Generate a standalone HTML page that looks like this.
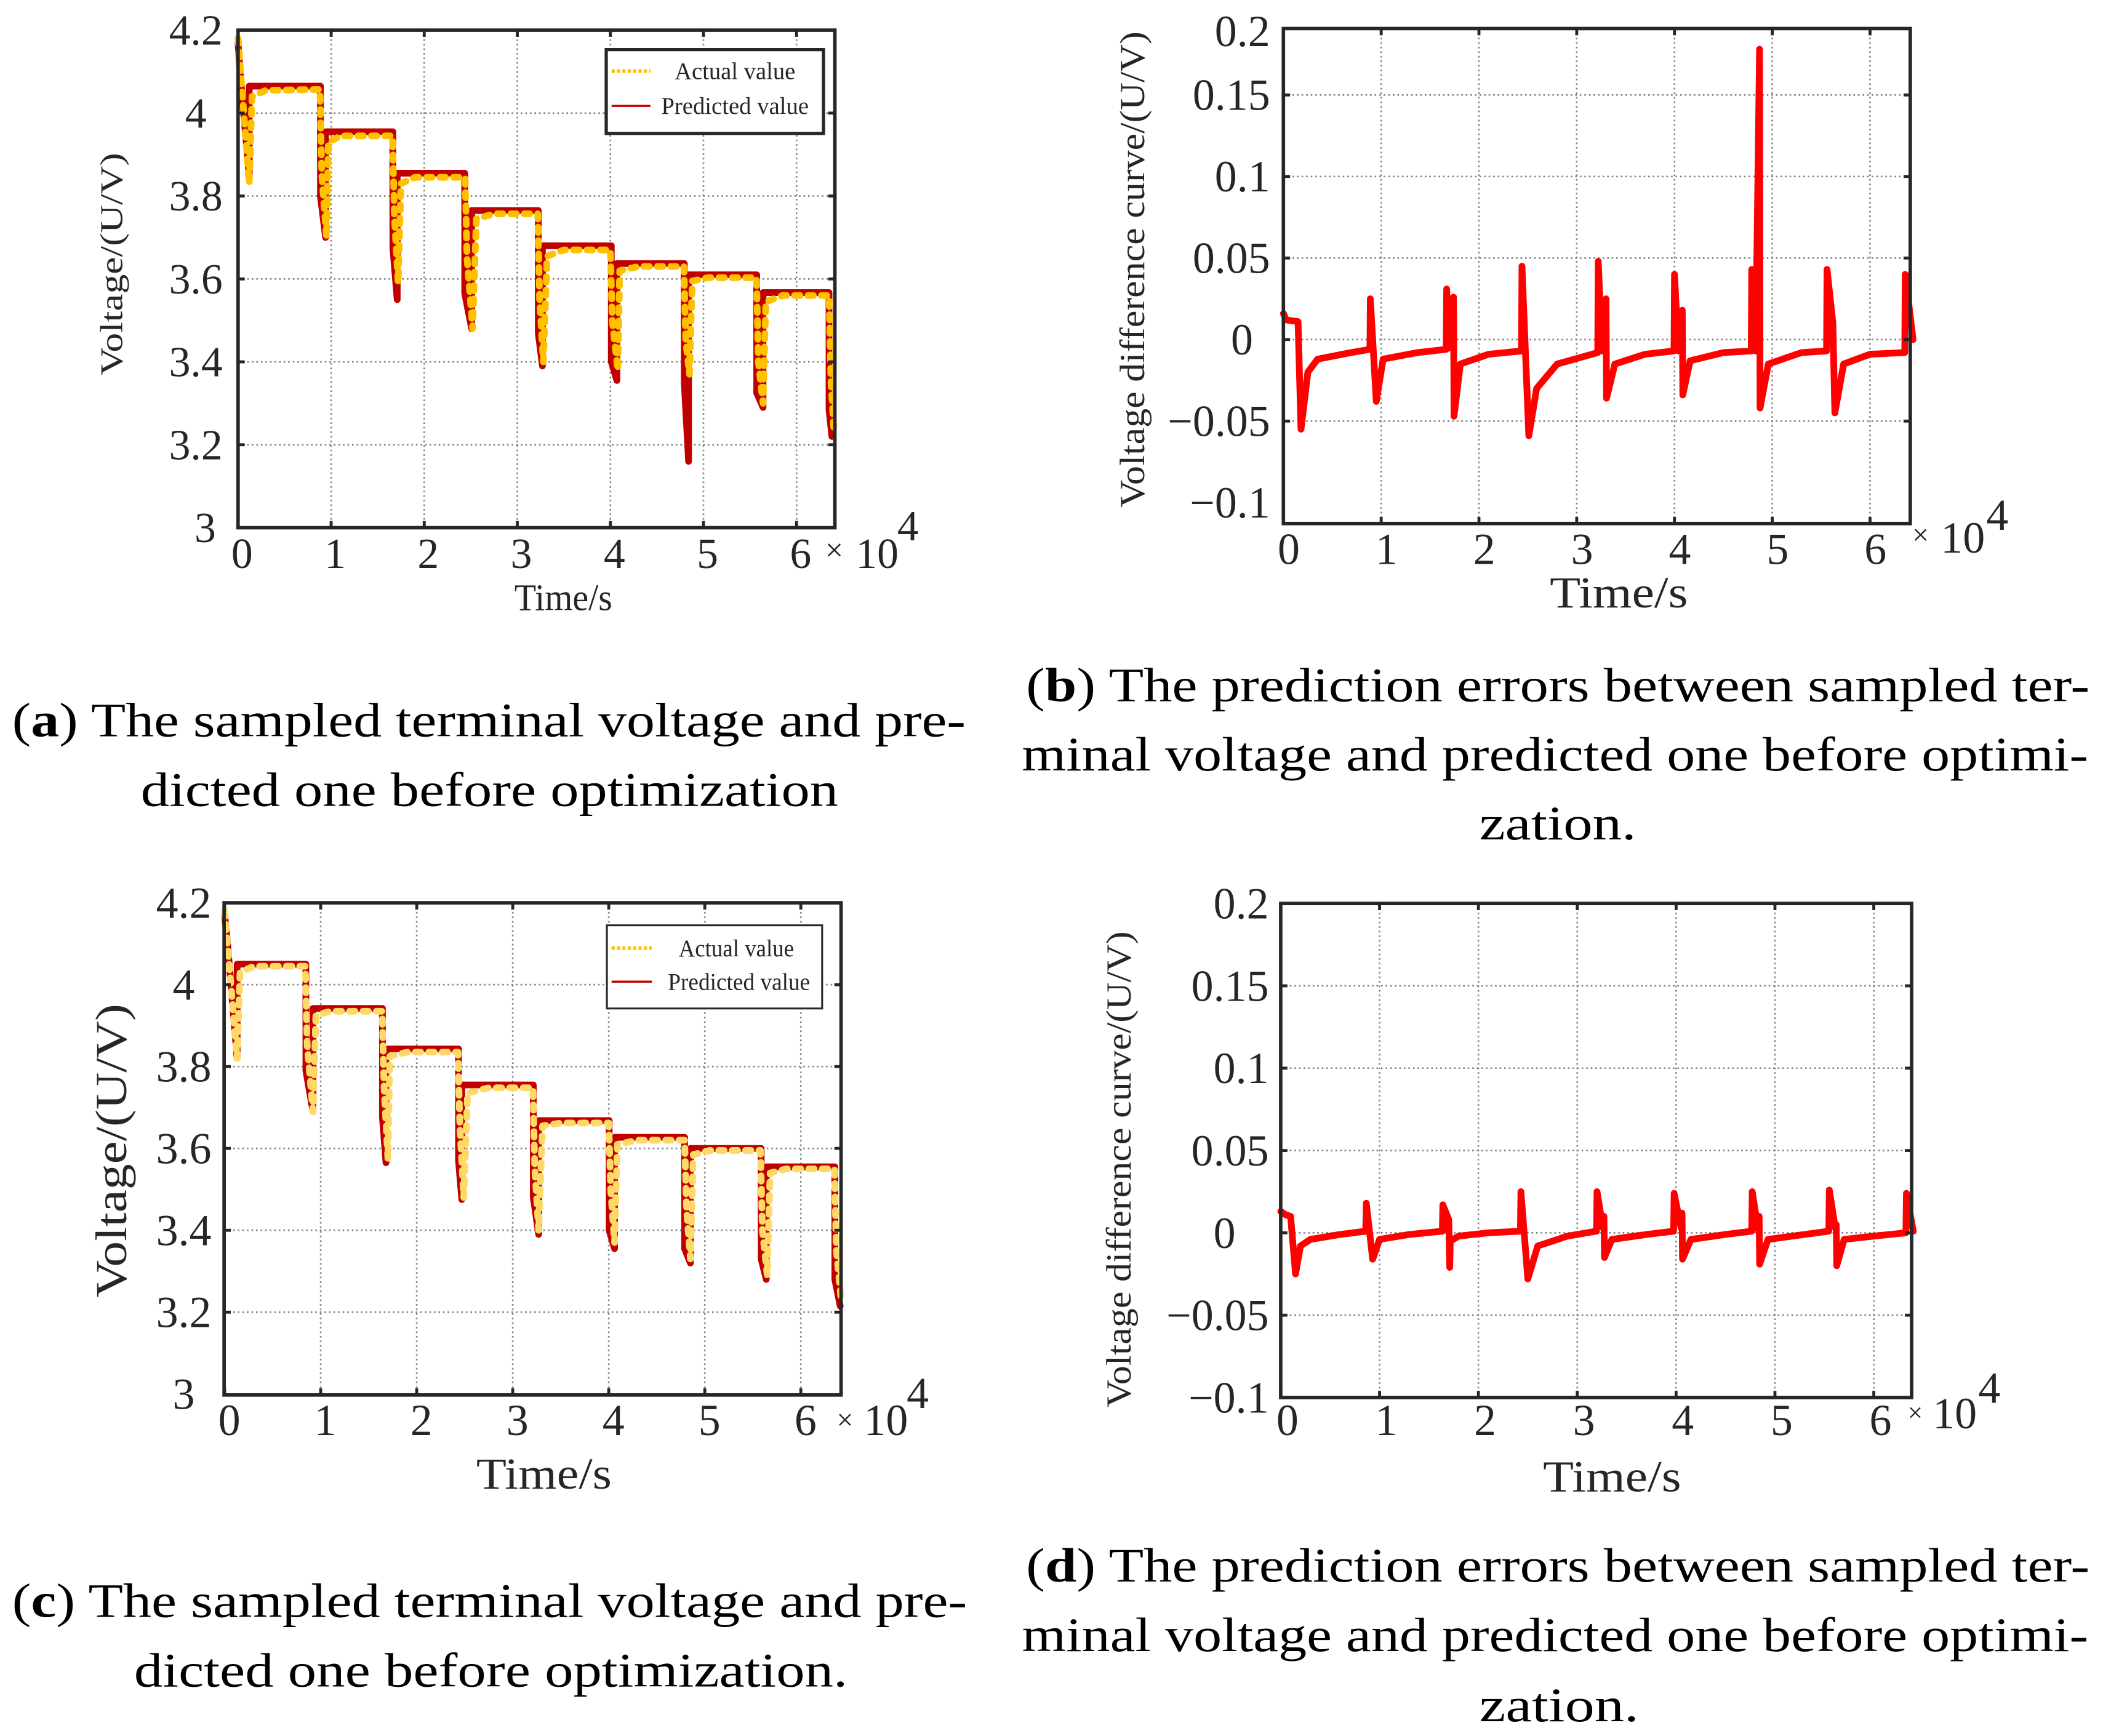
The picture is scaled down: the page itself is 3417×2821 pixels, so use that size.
<!DOCTYPE html>
<html><head><meta charset="utf-8">
<style>
html,body{margin:0;padding:0;background:#fff;}
svg{display:block;}
text{font-family:"Liberation Serif",serif;fill:#262626;}
.cap{fill:#000;}
</style></head>
<body>
<svg id="fig" xmlns="http://www.w3.org/2000/svg" width="3417" height="2821" viewBox="0 0 1568 1294.5" preserveAspectRatio="none"></svg>
<script>
// ---------- data ----------
const timeTicks = [0,1,2,3,4,5,6];
const voltTicks = [4.2,4,3.8,3.6,3.4,3.2,3];
const voltTickLabels = ["4.2","4","3.8","3.6","3.4","3.2","3"];
const errTicks = [0.2,0.15,0.1,0.05,0,-0.05,-0.1];
const errTickLabels = ["0.2","0.15","0.1","0.05","0","\u22120.05","\u22120.1"];

const aPredT = [0,0.02,0.12,0.12,0.885,0.885,0.94,0.94,1.663,1.663,1.71,1.71,2.435,2.435,2.51,2.51,3.225,3.225,3.27,3.27,4.01,4.01,4.07,4.07,4.794,4.794,4.84,4.84,5.572,5.572,5.64,5.64,6.349,6.349,6.38];
const aPredV = [4.17,4.10,3.85,4.065,4.065,3.80,3.70,3.955,3.955,3.675,3.55,3.855,3.855,3.565,3.48,3.765,3.765,3.47,3.39,3.68,3.68,3.40,3.355,3.637,3.637,3.35,3.16,3.61,3.61,3.325,3.29,3.567,3.567,3.285,3.22];
const aActT = [0,0.12,0.15,0.3,0.88,0.9,0.95,0.97,1.1,1.66,1.68,1.72,1.75,1.9,2.44,2.46,2.52,2.56,2.75,3.22,3.24,3.28,3.32,3.5,4.0,4.02,4.08,4.1,4.3,4.79,4.81,4.85,4.88,5.05,5.57,5.59,5.64,5.67,5.85,6.35,6.37,6.4];
const aActV = [4.18,3.83,4.04,4.055,4.057,3.85,3.70,3.93,3.945,3.945,3.75,3.59,3.83,3.845,3.845,3.65,3.48,3.745,3.757,3.757,3.55,3.40,3.655,3.67,3.67,3.50,3.38,3.62,3.63,3.63,3.45,3.37,3.595,3.603,3.603,3.40,3.30,3.545,3.56,3.56,3.35,3.24];

const bErrT = [0,0.03,0.15,0.18,0.25,0.35,0.69,0.885,0.889,0.95,1.02,1.37,1.665,1.67,1.70,1.74,1.745,1.81,2.1,2.435,2.44,2.51,2.59,2.8,3.215,3.22,3.26,3.30,3.305,3.39,3.7,3.995,4.0,4.04,4.08,4.085,4.16,4.5,4.785,4.79,4.83,4.87,4.875,4.96,5.3,5.555,5.56,5.62,5.64,5.73,6.0,6.355,6.36,6.44];
const bErrV = [0.016,0.012,0.011,-0.055,-0.02,-0.012,-0.008,-0.006,0.025,-0.038,-0.012,-0.008,-0.006,0.031,-0.005,0.026,-0.047,-0.015,-0.009,-0.007,0.045,-0.059,-0.03,-0.015,-0.008,0.048,-0.007,0.025,-0.036,-0.015,-0.009,-0.007,0.040,-0.007,0.018,-0.034,-0.013,-0.008,-0.007,0.043,-0.007,0.178,-0.042,-0.015,-0.008,-0.007,0.043,0.01,-0.045,-0.015,-0.009,-0.008,0.040,0.0];

const cPredT = [0,0.03,0.13,0.13,0.846,0.846,0.92,0.92,1.643,1.643,1.68,1.68,2.435,2.435,2.47,2.47,3.214,3.214,3.27,3.27,4.004,4.004,4.06,4.06,4.79,4.79,4.85,4.85,5.587,5.587,5.64,5.64,6.354,6.354,6.41];
const cPredV = [4.17,4.10,3.82,4.05,4.05,3.79,3.69,3.942,3.942,3.676,3.565,3.843,3.843,3.571,3.475,3.755,3.755,3.48,3.39,3.668,3.668,3.40,3.355,3.627,3.627,3.355,3.32,3.60,3.60,3.33,3.28,3.555,3.555,3.28,3.215];
const cActT = [0,0.13,0.16,0.3,0.84,0.86,0.92,0.95,1.1,1.64,1.66,1.70,1.72,1.9,2.43,2.45,2.49,2.53,2.75,3.21,3.23,3.27,3.31,3.5,4.0,4.02,4.06,4.09,4.3,4.79,4.81,4.85,4.88,5.05,5.58,5.60,5.65,5.68,5.85,6.35,6.37,6.42];
const cActV = [4.18,3.82,4.03,4.045,4.045,3.85,3.69,3.925,3.935,3.935,3.75,3.575,3.825,3.835,3.835,3.65,3.48,3.735,3.748,3.748,3.55,3.40,3.655,3.662,3.662,3.50,3.37,3.61,3.62,3.62,3.45,3.33,3.585,3.595,3.595,3.40,3.29,3.54,3.55,3.55,3.35,3.23];

const dErrT = [0,0.05,0.1,0.15,0.2,0.3,0.6,0.86,0.866,0.93,1.0,1.3,1.635,1.64,1.70,1.71,1.715,1.8,2.1,2.425,2.43,2.5,2.6,2.9,3.195,3.2,3.26,3.27,3.275,3.35,3.7,3.975,3.98,4.05,4.06,4.065,4.15,4.5,4.765,4.77,4.83,4.84,4.845,4.93,5.3,5.545,5.55,5.61,5.62,5.625,5.7,6.0,6.325,6.33,6.40];
const dErrV = [0.013,0.011,0.010,-0.025,-0.008,-0.004,-0.001,0.001,0.018,-0.016,-0.004,-0.001,0.001,0.017,0.008,-0.021,-0.005,-0.002,0.0,0.001,0.025,-0.028,-0.008,-0.002,0.001,0.025,0.003,0.010,-0.015,-0.004,-0.001,0.001,0.024,0.003,0.012,-0.016,-0.004,-0.001,0.001,0.025,0.002,0.010,-0.019,-0.004,-0.001,0.001,0.026,0.003,0.005,-0.020,-0.004,-0.002,0.0,0.024,0.001];

// ---------- helpers ----------
const NS = "http://www.w3.org/2000/svg";
const svg = document.getElementById('fig');
function mk(tag, attrs, parent){
  const e = document.createElementNS(NS, tag);
  for (const k in attrs) e.setAttribute(k, attrs[k]);
  (parent||svg).appendChild(e);
  return e;
}
function scale(d0,d1,r0,r1){ return v => r0 + (v-d0)/(d1-d0)*(r1-r0); }

function panel(cfg){
  const g = mk('g', {});
  
  
  const xs = scale(0, 1, cfg.x0, cfg.x0 + cfg.xu);
  const ys = scale(cfg.yMax, cfg.yMin, (cfg.yMaxPix !== undefined ? cfg.yMaxPix : cfg.top), cfg.yMinPix);
  // grid
  const grid = mk('g', {stroke:'#808080','stroke-width':1.2,'stroke-dasharray':'1.2 2.2',fill:'none'}, g);
  
  
  cfg.gridY.forEach(v => {
    const l = mk('line', {x1:cfg.left, x2:cfg.right, y1:ys(v), y2:ys(v)}, grid);
    
    
  });
  timeTicks.slice(1).forEach(t => {
    const l = mk('line', {x1:xs(t), x2:xs(t), y1:cfg.top, y2:cfg.bottom}, grid);
    
    
  });
  // series
  cfg.series.forEach(s => {
    const pts = s.t.map((t,i) => xs(t).toFixed(2)+','+ys(s.v[i]).toFixed(2)).join(' ');
    const p = mk('polyline', {points:pts, fill:'none', stroke:s.color, 'stroke-width':s.w,
      'stroke-linejoin':'round','stroke-linecap':'round'}, g);
    if (s.dash) p.setAttribute('stroke-dasharray', s.dash);
    
    
  });
  // axes box
  const box = mk('rect', {x:cfg.left, y:cfg.top, width:cfg.right-cfg.left, height:cfg.bottom-cfg.top,
    fill:'none', stroke:'#262626','stroke-width':2.6}, g);
  
  
  // ticks
  const tk = mk('g', {stroke:'#262626','stroke-width':2.2}, g);
  
  
  timeTicks.forEach(t => {
    mk('line', {x1:xs(t), x2:xs(t), y1:cfg.bottom, y2:cfg.bottom-5}, tk);
    mk('line', {x1:xs(t), x2:xs(t), y1:cfg.top, y2:cfg.top+5}, tk);
  });
  cfg.gridY.forEach(v => {
    mk('line', {x1:cfg.left, x2:cfg.left+5, y1:ys(v), y2:ys(v)}, tk);
    mk('line', {x1:cfg.right, x2:cfg.right-5, y1:ys(v), y2:ys(v)}, tk);
  });
  // x tick labels
  timeTicks.forEach(t => {
    const tx = mk('text', {x:xs(t)+cfg.xlOff, y:cfg.xlBase, 'font-size':cfg.fs, 'text-anchor':'middle'}, g);
    tx.textContent = String(t);
    
    
  });
  // y tick labels
  cfg.yTicks.forEach((v,i) => {
    let y = ys(v);
    y = Math.max(cfg.top + cfg.yClampTop, Math.min(cfg.bottom + cfg.yClampBot, y));
    const lbl = cfg.yLabels[i];
    const isZeroCenter = cfg.zeroX && lbl === '0';
    const isThree = cfg.threeX && lbl === '3';
    const tx = mk('text', {x: isZeroCenter ? cfg.zeroX : (isThree ? cfg.threeX : cfg.ylX), y:y+cfg.fs*0.34,
      'font-size':cfg.fs, 'text-anchor': isZeroCenter||isThree ? 'middle' : cfg.ylAnchor}, g);
    tx.textContent = lbl;
    
    
  });
  // exponent
  const ex = cfg.exp;
  const e1 = mk('text', {x:ex.tx, y:ex.tb, 'font-size':ex.tfs, 'text-anchor':'middle'}, g);
  e1.textContent = '\u00d7';
  
  
  const e2 = mk('text', {x:ex.x10, y:ex.b10, 'font-size':cfg.fs}, g);
  e2.textContent = '10';
  
  
  const e3 = mk('text', {x:ex.x4, y:ex.b4, 'font-size':cfg.fs}, g);
  e3.textContent = '4';
  
  
  // axis titles
  const xt = mk('text', {x:cfg.xt.cx, y:cfg.xt.b, 'font-size':cfg.xt.fs, 'text-anchor':'middle',
    textLength:cfg.xt.len, lengthAdjust:'spacingAndGlyphs'}, g);
  xt.textContent = 'Time/s';
  
  
  const yt = mk('text', {x:0, y:0, 'font-size':cfg.yt.fs, 'text-anchor':'middle',
    textLength:cfg.yt.len, lengthAdjust:'spacingAndGlyphs',
    transform:'translate('+cfg.yt.bx+','+cfg.yt.cy+') rotate(-90)'}, g);
  yt.textContent = cfg.yt.text;
  
  
  // legend
  if (cfg.legend){
    const L = cfg.legend;
    const lg = mk('g', {}, g);
    
    
    mk('rect', {x:L.x, y:L.y, width:L.w, height:L.h, fill:'#fff', stroke:'#262626', 'stroke-width':L.sw}, lg);
    const l1 = mk('line', {x1:L.lx0, x2:L.lx1, y1:L.y1, y2:L.y1, stroke:'#FFC000','stroke-width':2.6,'stroke-dasharray':'2.4 1.6'}, lg);
    
    
    const t1 = mk('text', {x:L.tc, y:L.y1+6, 'font-size':18, 'text-anchor':'middle', textLength:L.len1, lengthAdjust:'spacingAndGlyphs'}, lg);
    t1.textContent = 'Actual value';
    
    
    const l2 = mk('line', {x1:L.lx0, x2:L.lx1, y1:L.y2, y2:L.y2, stroke:'#C00000','stroke-width':1.6}, lg);
    
    
    const t2 = mk('text', {x:L.tc2, y:L.y2+6, 'font-size':18, 'text-anchor':'middle', textLength:L.len2, lengthAdjust:'spacingAndGlyphs'}, lg);
    t2.textContent = 'Predicted value';
    
    
  }
}

// ---------- panel a ----------
panel({name:'chart-a-voltage', x0:177.5, xu:69.4, left:177.5, right:622.5, top:22.5, bottom:393.5,
  yMax:4.2, yMin:3.0, yMinPix:393.5, gridY:[4,3.8,3.6,3.4,3.2],
  yTicks:voltTicks, yLabels:voltTickLabels, ylX:146, ylAnchor:'middle', threeX:153, yClampTop:-100, yClampBot:100,
  fs:32, xlOff:3, xlBase:423.5,
  exp:{tx:622, tb:418, tfs:24, x10:638, b10:423.5, x4:669, b4:403},
  xt:{cx:420, b:455, fs:28, len:73},
  yt:{bx:91, cy:197, fs:24, len:166, text:'Voltage/(U/V)'},
  legend:{x:452, y:37, w:162, h:62.5, sw:2.4, lx0:456, lx1:485, y1:53, y2:79, tc:548, tc2:548, len1:90, len2:110},
  series:[
    {name:'predicted-value-line', t:aPredT, v:aPredV, color:'#C00000', w:5},
    {name:'actual-value-line', t:aActT, v:aActV, color:'#FFC000', w:5, dash:'4 6'}
  ]});

// ---------- panel b ----------
panel({name:'chart-b-error', x0:956.9, xu:72.9, left:956.9, right:1424.3, top:21.3, bottom:390.4,
  yMax:0.05, yMaxPix:192.4, yMin:0, yMinPix:253.2, gridY:[0.15,0.1,0.05,0,-0.05],
  yTicks:errTicks, yLabels:errTickLabels, ylX:947, ylAnchor:'end', zeroX:926, yClampTop:2, yClampBot:9,
  fs:33, xlOff:4, xlBase:420.5,
  exp:{tx:1432, tb:406, tfs:22, x10:1447, b10:412, x4:1481, b4:395},
  xt:{cx:1207, b:453, fs:33, len:103},
  yt:{bx:853, cy:201, fs:26, len:355, text:'Voltage difference curve/(U/V)'},
  series:[
    {name:'voltage-difference-line', t:bErrT, v:bErrV, color:'#FF0000', w:5}
  ]});

// ---------- panel c ----------
panel({name:'chart-c-voltage', x0:167.5, xu:71.6, left:167.1, right:627.1, top:673.2, bottom:1040.2,
  yMax:4.2, yMin:3.0, yMinPix:1039.5, gridY:[4,3.8,3.6,3.4,3.2],
  yTicks:voltTicks, yLabels:voltTickLabels, ylX:137, ylAnchor:'middle', yClampTop:-100, yClampBot:100,
  fs:33, xlOff:3.5, xlBase:1070,
  exp:{tx:630, tb:1066, tfs:22, x10:644, b10:1070, x4:676, b4:1050},
  xt:{cx:405.6, b:1110, fs:33, len:101},
  yt:{bx:94, cy:858, fs:33, len:219, text:'Voltage/(U/V)'},
  legend:{x:452.5, y:690, w:160.5, h:62, sw:1.4, lx0:456, lx1:486, y1:707, y2:732, tc:549, tc2:551, len1:86, len2:106},
  series:[
    {name:'predicted-value-line', t:cPredT, v:cPredV, color:'#C00000', w:5},
    {name:'actual-value-line', t:cActT, v:cActV, color:'#FFD966', w:5, dash:'4 6'}
  ]});

// ---------- panel d ----------
panel({name:'chart-d-error', x0:954.9, xu:73.7, left:954.9, right:1425.3, top:673.7, bottom:1042.1,
  yMax:0.2, yMin:-0.1, yMinPix:1042.1, gridY:[0.15,0.1,0.05,0,-0.05],
  yTicks:errTicks, yLabels:errTickLabels, ylX:946, ylAnchor:'end', zeroX:913, yClampTop:-100, yClampBot:100,
  fs:33, xlOff:5, xlBase:1070,
  exp:{tx:1428, tb:1060, tfs:20, x10:1441, b10:1065, x4:1475, b4:1046},
  xt:{cx:1202, b:1112, fs:33, len:103},
  yt:{bx:843, cy:872, fs:26, len:355, text:'Voltage difference curve/(U/V)'},
  series:[
    {name:'voltage-difference-line', t:dErrT, v:dErrV, color:'#FF0000', w:5}
  ]});

// ---------- captions ----------
function caption(name, lines){
  const g = mk('g', {});
  
  
  lines.forEach(L => {
    const t = mk('text', {x:L.x, y:L.y, 'font-size':36, class:'cap', textLength:L.w, lengthAdjust:'spacingAndGlyphs'}, g);
    if (L.lab){
      const a = mk('tspan', {}, t); a.textContent = '(';
      const b = mk('tspan', {'font-weight':'bold'}, t); b.textContent = L.lab;
      const c = mk('tspan', {}, t); c.textContent = ') ' + L.s;
    } else t.textContent = L.s;
  });
}
caption('caption-a', [
  {x:9, y:549, w:711, lab:'a', s:'The sampled terminal voltage and pre-'},
  {x:105, y:601, w:520, s:'dicted one before optimization'}]);
caption('caption-b', [
  {x:765, y:523, w:793, lab:'b', s:'The prediction errors between sampled ter-'},
  {x:762, y:574.6, w:795, s:'minal voltage and predicted one before optimi-'},
  {x:1103, y:626, w:117, s:'zation.'}]);
caption('caption-c', [
  {x:9, y:1205.7, w:712, lab:'c', s:'The sampled terminal voltage and pre-'},
  {x:100, y:1257.5, w:532, s:'dicted one before optimization.'}]);
caption('caption-d', [
  {x:765, y:1179.4, w:793, lab:'d', s:'The prediction errors between sampled ter-'},
  {x:762, y:1231.2, w:795, s:'minal voltage and predicted one before optimi-'},
  {x:1103, y:1283.5, w:119, s:'zation.'}]);
</script>
</body></html>
